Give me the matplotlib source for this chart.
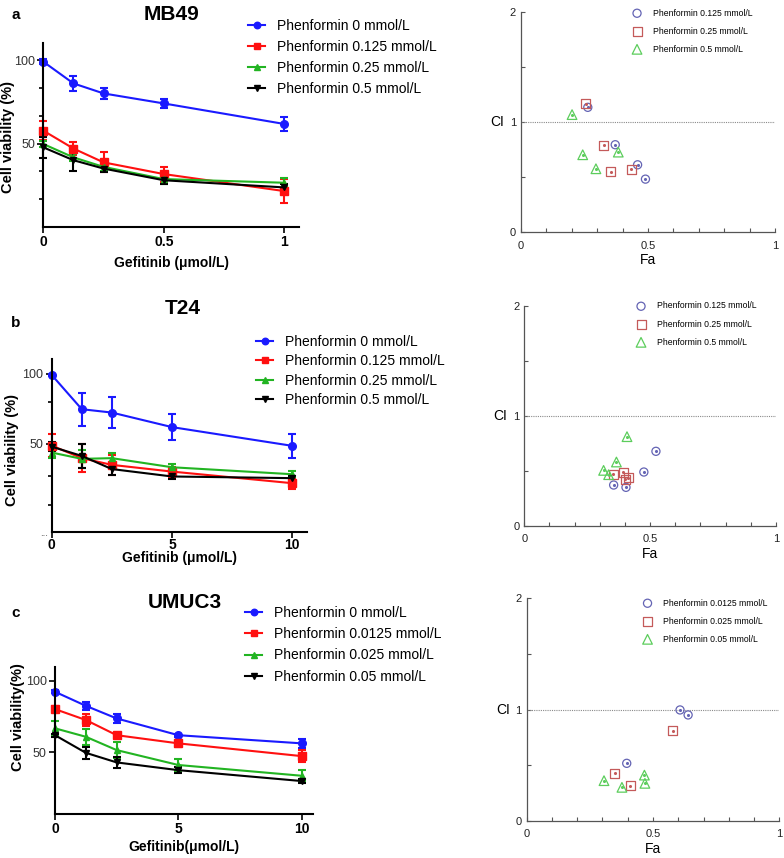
import matplotlib
matplotlib.use("Agg")
import matplotlib.pyplot as plt
import numpy as np

plt.rcParams.update({
    "font.family": ["Liberation Sans", "DejaVu Sans"],
    "axes.linewidth": 1.5,
})

W, H = 784, 858

# ---- left column: cell viability vs gefitinib dose ----
MB49_DOSE = [0, 0.125, 0.25, 0.5, 1]
MB49_LABELS = ["Phenformin 0 mmol/L", "Phenformin 0.125 mmol/L",
               "Phenformin 0.25 mmol/L", "Phenformin 0.5 mmol/L"]
MB49_MEAN = [[99, 86, 80, 74, 61.7],
             [57.7, 47, 38.7, 31.7, 21.5],
             [49.7, 41.7, 36, 28.7, 26.5],
             [47.7, 40, 35, 28, 23.7]]
MB49_ERR = [[1.5, 4.5, 3.2, 2.5, 4],
            [5.8, 4, 6, 4.5, 7],
            [2, 2, 2.5, 3, 3],
            [6.5, 6.5, 2, 2, 2]]

T24_DOSE = [0, 1.25, 2.5, 5, 10]
T24_LABELS = MB49_LABELS
T24_MEAN = [[99.3, 74.8, 72.4, 62, 48.6],
            [48.8, 39.8, 35, 30.2, 21.9],
            [43.8, 39.3, 39.8, 33.3, 28.3],
            [48, 41.4, 32, 26.7, 25.5]]
T24_ERR = [[1, 11.7, 11, 9.3, 8.7],
           [8.3, 9.9, 7, 3.6, 4],
           [4, 6.5, 4, 2, 2],
           [3, 8.7, 4, 2, 1.5]]

UMUC3_DOSE = [0, 1.25, 2.5, 5, 10]
UMUC3_LABELS = ["Phenformin 0 mmol/L", "Phenformin 0.0125 mmol/L",
                "Phenformin 0.025 mmol/L", "Phenformin 0.05 mmol/L"]
UMUC3_MEAN = [[92.3, 82.5, 73.7, 62, 56.3],
              [80.2, 72.6, 62, 56.3, 47.4],
              [66.8, 60.9, 51.6, 41.2, 33.7],
              [62, 49.7, 43, 37.6, 30]]
UMUC3_ERR = [[1, 3, 3, 1, 3],
             [2, 4.5, 1, 2.5, 4],
             [5, 5.5, 5.5, 4, 4],
             [1, 4, 4, 2, 1.5]]

# ---- right column: combination index (CI) vs fraction affected (Fa) ----
MB49_CI_LABELS = ["Phenformin 0.125 mmol/L", "Phenformin 0.25 mmol/L",
                  "Phenformin 0.5 mmol/L"]
MB49_FA = [[0.263, 0.371, 0.459, 0.49],
           [0.254, 0.326, 0.354, 0.434],
           [0.201, 0.243, 0.295, 0.383]]
MB49_CI = [[1.133, 0.794, 0.612, 0.482],
           [1.164, 0.788, 0.548, 0.573],
           [1.067, 0.703, 0.576, 0.727]]

T24_CI_LABELS = MB49_CI_LABELS
T24_FA = [[0.523, 0.475, 0.355, 0.404],
          [0.354, 0.393, 0.413, 0.401],
          [0.408, 0.366, 0.315, 0.335]]
T24_CI = [[0.678, 0.49, 0.372, 0.351],
          [0.472, 0.49, 0.439, 0.424],
          [0.811, 0.581, 0.505, 0.466]]

UMUC3_CI_LABELS = ["Phenformin 0.0125 mmol/L", "Phenformin 0.025 mmol/L",
                   "Phenformin 0.05 mmol/L"]
UMUC3_FA = [[0.607, 0.639, 0.396],
            [0.578, 0.348, 0.41],
            [0.306, 0.377, 0.466, 0.468]]
UMUC3_CI = [[0.996, 0.951, 0.516],
            [0.81, 0.426, 0.315],
            [0.36, 0.3, 0.41, 0.336]]

LINE_COLORS = ["#1a1aff", "#ff1010", "#22b422", "#000000"]
LINE_MARKERS = ["o", "s", "^", "v"]
CI_COLORS = ["#6464b4", "#c45a5a", "#5ccd5c"]
CI_MARKERS = ["o", "s", "^"]

fig = plt.figure(figsize=(W / 100, H / 100), dpi=100)


def rect(x0, y0, x1, y1):
    return [x0 / W, 1 - y1 / H, (x1 - x0) / W, (y1 - y0) / H]


def ftext(x, y, s, **kw):
    fig.text(x / W, 1 - y / H, s, ha="center", va="center", **kw)


def dose_panel(box, dose, means, errs, labels, xlim, ylim, xticks, xticklabels,
               minor, xlabel, ylabel, xlab_y, ylab_pos, leg_xy, leg_space,
               xpad=2):
    ax = fig.add_axes(rect(*box))
    handles = []
    for m, e, col, mk in zip(means, errs, LINE_COLORS, LINE_MARKERS):
        cont = ax.errorbar(dose, m, yerr=e, color=col, marker=mk,
                           ms=5.5 if mk in "os" else 5, lw=1.5,
                           elinewidth=1.5, capsize=3, capthick=1.5,
                           clip_on=False)
        handles.append(cont[0])
    ax.set_xlim(*xlim)
    ax.set_ylim(*ylim)
    for s in ["top", "right"]:
        ax.spines[s].set_visible(False)
    ax.set_xticks(xticks)
    ax.set_xticklabels(xticklabels, fontweight="bold", fontsize=10)
    ax.set_yticks([50, 100])
    ax.set_yticklabels(["50", "100"], fontsize=9, color="#333333")
    ax.set_yticks(minor, minor=True)
    ax.tick_params(axis="both", length=4, width=1.2, pad=2)
    ax.tick_params(axis="x", pad=xpad)
    ax.tick_params(axis="y", which="minor", length=3, width=1.2)
    ax.set_xlabel(xlabel, fontweight="bold", fontsize=10, va="center")
    ax.xaxis.set_label_coords(0.5, xlab_y)
    ax.set_ylabel(ylabel, fontweight="bold", fontsize=10.5, va="center")
    ax.yaxis.set_label_coords(*ylab_pos)
    ax.legend(handles, labels, loc="upper left",
              bbox_to_anchor=(leg_xy[0] / W, 1 - leg_xy[1] / H),
              bbox_transform=fig.transFigure, frameon=False, fontsize=10,
              handlelength=1.25, handletextpad=0.85, labelspacing=leg_space,
              borderpad=0, borderaxespad=0, markerscale=0.85)
    return ax


def ci_panel(box, fas, cis, labels, leg_xy):
    ax = fig.add_axes(rect(*box))
    ax.axhline(1, color="#8a8a8a", lw=0.8, ls=(0, (1, 1)))
    handles = []
    for fa, ci, col, mk in zip(fas, cis, CI_COLORS, CI_MARKERS):
        sz = {"o": 34, "s": 42, "^": 48}[mk]
        h = ax.scatter(fa, ci, s=sz, marker=mk, facecolors="none",
                       edgecolors=col, linewidths=0.9, zorder=3)
        ax.scatter(fa, ci, s=1.5, marker="o", color=col, zorder=3)
        handles.append(h)
    ax.set_xlim(0, 1)
    ax.set_ylim(0, 2)
    for s in ["top", "right"]:
        ax.spines[s].set_visible(False)
    for s in ["left", "bottom"]:
        ax.spines[s].set_color("#555555")
        ax.spines[s].set_linewidth(0.9)
    ax.set_xticks([0, 0.5, 1])
    ax.set_xticklabels(["0", "0.5", "1"])
    ax.set_xticks(np.arange(0.1, 1.0, 0.1), minor=True)
    ax.set_yticks([0, 0.5, 1, 1.5, 2])
    ax.set_yticklabels(["0", "", "1", "", "2"])
    ax.tick_params(axis="both", which="both", direction="in", length=3,
                   width=0.8, color="#555555", labelsize=8, labelcolor="#222222")
    ax.tick_params(axis="x", pad=6)
    ax.set_xlabel("Fa", fontsize=10, labelpad=2)
    ax.set_ylabel("CI", fontsize=10, rotation=0, va="center", ha="center")
    ax.yaxis.set_label_coords(-0.094, 0.5)
    ax.legend(handles, labels, loc="upper left",
              bbox_to_anchor=(leg_xy[0] / W, 1 - leg_xy[1] / H),
              bbox_transform=fig.transFigure, frameon=False, fontsize=6.2,
              handlelength=1.4, handletextpad=1.1, labelspacing=1.05,
              borderpad=0, borderaxespad=0, scatterpoints=1)
    return ax


# a: MB49
dose_panel((43.3, 43, 299.3, 227), MB49_DOSE, MB49_MEAN, MB49_ERR, MB49_LABELS,
           (0, 1.062), (0, 110.2), [0, 0.5, 1], ["0", "0.5", "1"],
           [100 / 6, 200 / 6, 400 / 6, 500 / 6],
           "Gefitinib (μmol/L)", "Cell viability (%)", -0.196, (-0.137, 0.49),
           (248, 19), 0.5)
ci_panel((521, 11.7, 775, 232.3), MB49_FA, MB49_CI, MB49_CI_LABELS, (631, 8.5))
ftext(171.7, 14, "MB49", fontsize=15, fontweight="bold")
ftext(16, 15, "a", fontsize=11, fontweight="bold")

# b: T24
dose_panel((51.7, 359, 306.7, 532), T24_DOSE, T24_MEAN, T24_ERR, T24_LABELS,
           (0, 10.6), (-13, 110.7), [0, 5, 10], ["0", "5", "10"],
           [80, 27, 6],
           "Gefitinib (μmol/L)", "Cell viability (%)", -0.152, (-0.157, 0.474),
           (256, 335), 0.38, xpad=0.5)
ci_panel((524.3, 305.7, 776, 526), T24_FA, T24_CI, T24_CI_LABELS, (635, 301.5))
ftext(183, 308, "T24", fontsize=15, fontweight="bold")
ftext(16, 323, "b", fontsize=11, fontweight="bold")
ftext(44, 533, "...", fontsize=7, color="#444444")

# c: UMUC3
dose_panel((55, 667, 313.3, 814), UMUC3_DOSE, UMUC3_MEAN, UMUC3_ERR,
           UMUC3_LABELS, (0, 10.47), (7, 109.6), [0, 5, 10], ["0", "5", "10"],
           [],
           "Gefitinib(μmol/L)", "Cell viability(%)", -0.222, (-0.142, 0.66),
           (245, 606), 0.52)
ci_panel((526.7, 598.3, 779.3, 820.7), UMUC3_FA, UMUC3_CI, UMUC3_CI_LABELS,
         (641.5, 598.5))
ftext(185, 602, "UMUC3", fontsize=15, fontweight="bold")
ftext(16, 613, "c", fontsize=11, fontweight="bold")

fig.savefig("out.png", dpi=100)
